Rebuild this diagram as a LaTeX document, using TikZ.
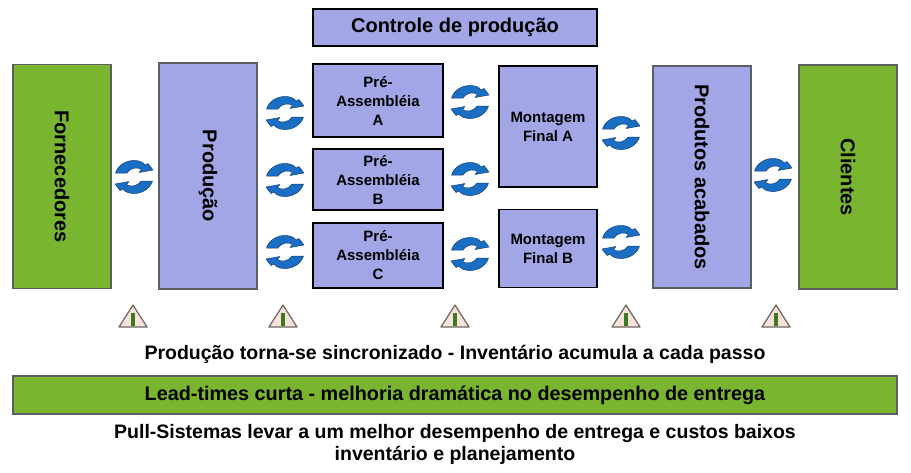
\documentclass[tikz,border=0pt]{standalone}
\usepackage{fontspec}
\setmainfont{Liberation Sans}
\definecolor{boxpurple}{HTML}{A3A6E6}
\definecolor{boxgreen}{HTML}{7AB52F}
\definecolor{edgegrey}{HTML}{5A5F60}
\definecolor{iconblue}{HTML}{1A6FC4}
\definecolor{icondark}{HTML}{123F78}
\definecolor{warnpink}{HTML}{F8E2DC}
\definecolor{warnedge}{HTML}{6E6660}
\definecolor{warnbar}{HTML}{3E7A22}
\tikzset{
  basebox/.style={draw,line width=1.6pt,inner sep=0pt,align=center,font=\bfseries},
  sidegreen/.style={basebox,line width=1.1pt,fill=boxgreen,draw=edgegrey,font=\bfseries\fontsize{20}{22}\selectfont},
  sidepurple/.style={basebox,line width=1.1pt,fill=boxpurple,draw=edgegrey,font=\bfseries\fontsize{20}{22}\selectfont},
  prebox/.style={basebox,fill=boxpurple,draw=black,minimum width=130pt,font=\bfseries\fontsize{15}{19}\selectfont},
  finalbox/.style={basebox,fill=boxpurple,draw=black,minimum width=98pt,font=\bfseries\fontsize{15}{19}\selectfont},
  caption/.style={inner sep=0pt,align=center,font=\bfseries\fontsize{19.5}{22}\selectfont},
  cycleicon/.pic={
    \foreach \a in {0,180}{
      \begin{scope}[rotate=\a]
        \fill[iconblue,draw=icondark,line width=.5pt,line join=round]
          (-18.5,-4) .. controls (-16,-12) and (-8,-16.5) .. (0,-16.5)
          .. controls (5,-16.5) and (9,-15) .. (11,-12)
          -- (14,-13.5) -- (19,-7) -- (5,-4.5) -- (7.5,-7.5)
          .. controls (4,-10) and (-3,-10) .. (-7,-4) -- cycle;
      \end{scope}
    }
  },
  warnicon/.pic={
    \fill[warnpink,draw=warnedge,line width=1.2pt,line join=round] (-14,11) -- (0,-11) -- (14,11) -- cycle;
    \fill[warnbar] (-1.8,-3) rectangle (1.8,10);
  }
}
\begin{document}
\begin{tikzpicture}[x=1pt,y=-1pt]
\useasboundingbox (0,0) rectangle (911,472);
\fill[white] (0,0) rectangle (911,472);
\node[basebox,fill=boxpurple,draw=black,minimum width=284pt,minimum height=37pt,font=\bfseries\fontsize{20}{22}\selectfont] (ctrl) at (455,27.5) {\raisebox{-1.5pt}{Controle de produção}};
\node[sidegreen,rotate=-90,minimum width=224pt,minimum height=98pt] (forn) at (62,176.5) {Fornecedores};
\node[sidepurple,rotate=-90,minimum width=226pt,minimum height=98pt] (prod) at (208,176) {Produção};
\node[prebox,minimum height=73pt] (prea) at (378,100.5) {Pré-\\Assembléia\\A};
\node[prebox,minimum height=61pt] (preb) at (378,179.5) {Pré-\\Assembléia\\B};
\node[prebox,minimum height=65pt] (prec) at (378,255.5) {Pré-\\Assembléia\\C};
\node[finalbox,minimum height=121pt] (mfa) at (548,126.5) {Montagem\\Final A};
\node[finalbox,minimum height=78pt] (mfb) at (548,248.5) {Montagem\\Final B};
\node[sidepurple,rotate=-90,minimum width=222pt,minimum height=98pt] (pac) at (702,177) {Produtos acabados};
\node[sidegreen,rotate=-90,minimum width=224pt,minimum height=98pt] (cli) at (848,177) {Clientes};
\pic at (134,177) {cycleicon};
\pic at (285,113) {cycleicon};
\pic at (285,180) {cycleicon};
\pic at (285,252) {cycleicon};
\pic at (470,102) {cycleicon};
\pic at (470,179) {cycleicon};
\pic at (470,254) {cycleicon};
\pic at (621,133) {cycleicon};
\pic at (621,242) {cycleicon};
\pic at (773,175) {cycleicon};
\pic at (133,316) {warnicon};
\pic at (283,316) {warnicon};
\pic at (455,316) {warnicon};
\pic at (626,316) {warnicon};
\pic at (776,316) {warnicon};
\node[caption] (cap1) at (455,354) {Produção torna-se sincronizado - Inventário acumula a cada passo};
\node[basebox,line width=1.1pt,fill=boxgreen,draw=edgegrey,minimum width=884pt,minimum height=38pt,font=\bfseries\fontsize{19.8}{22}\selectfont] (lead) at (455,395) {\raisebox{-1pt}{Lead-times curta - melhoria dramática no desempenho de entrega}};
\node[caption] (cap2) at (455,444) {Pull-Sistemas levar a um melhor desempenho de entrega e custos baixos\\inventário e planejamento};
\end{tikzpicture}
\end{document}
